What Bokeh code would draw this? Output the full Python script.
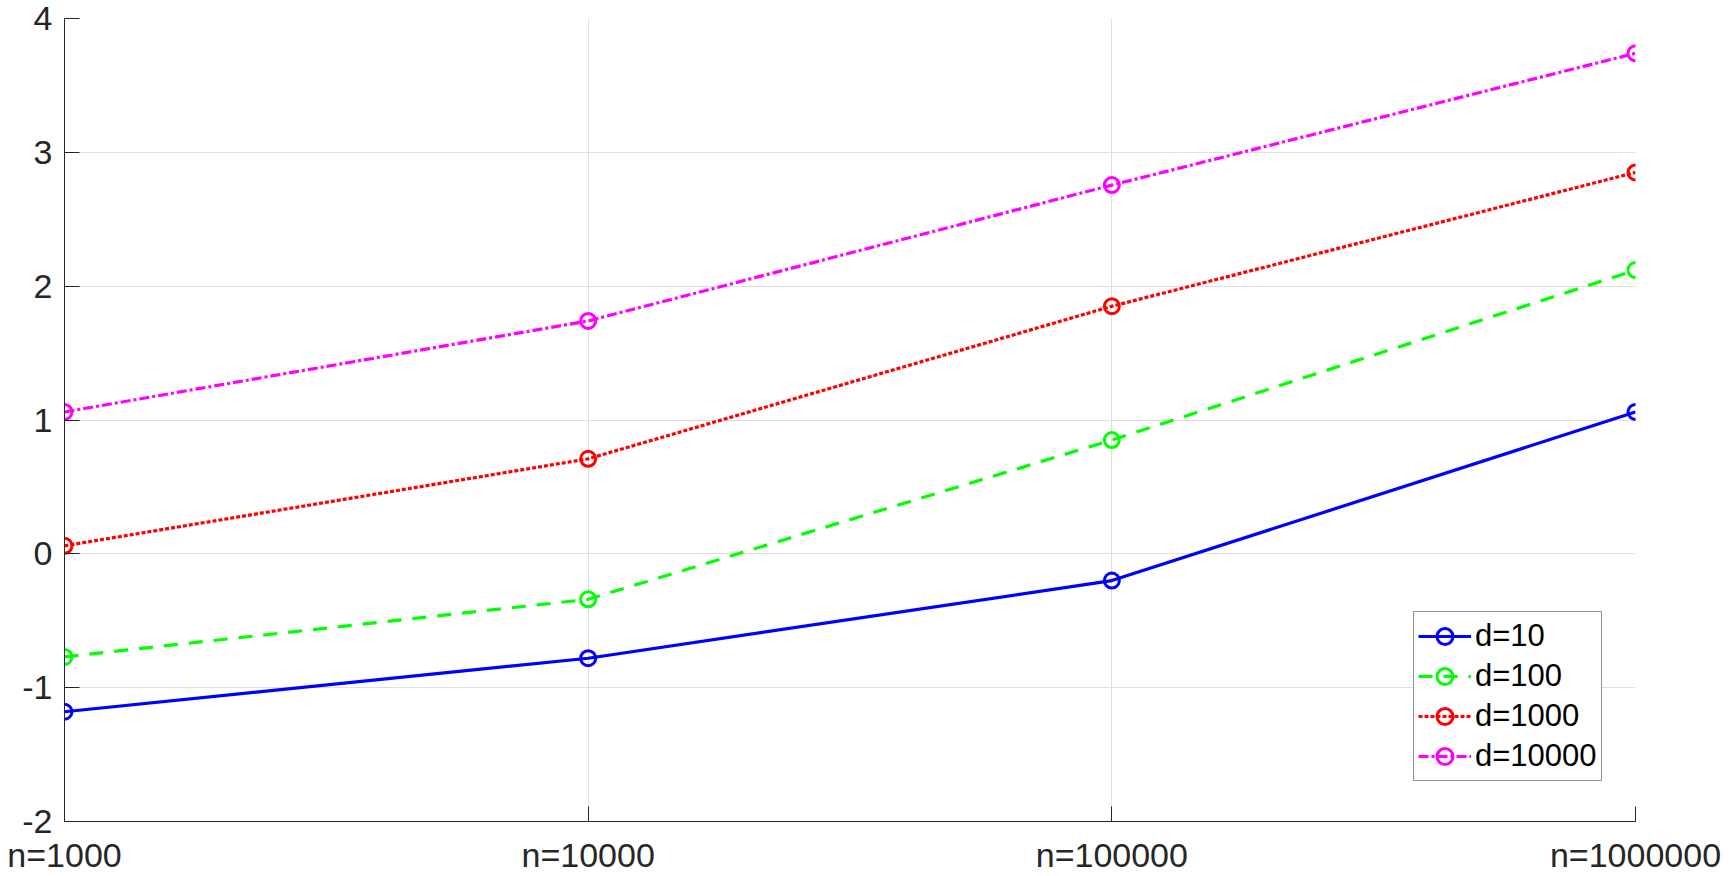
from bokeh.plotting import figure
from bokeh.models import Range1d, FixedTicker, Legend, LegendItem
from bokeh.embed import file_html
from bokeh.resources import INLINE

n_values = [1000, 10000, 100000, 1000000]
x_labels = ["n=1000", "n=10000", "n=100000", "n=1000000"]
y_ticks = [-2, -1, 0, 1, 2, 3, 4]
y_labels = ["-2", "-1", "0", "1", "2", "3", "4"]

d10 = [-1.18, -0.78, -0.20, 1.06]
d100 = [-0.77, -0.34, 0.85, 2.12]
d1000 = [0.06, 0.71, 1.85, 2.85]
d10000 = [1.06, 1.74, 2.755, 3.74]

series_names = ["d=10", "d=100", "d=1000", "d=10000"]
series_values = [d10, d100, d1000, d10000]
colors = ["#0000ff", "#00ff00", "#ff0000", "#ff00ff"]
dashes = ["solid", "14 11", "4 2", "10 3 3 3"]

FONT = "Liberation Sans"
AX = "#262626"

p = figure(width=1729, height=876, x_axis_type="log",
           x_range=Range1d(1000, 1000000), y_range=Range1d(-2, 4),
           output_backend="svg", toolbar_location=None,
           min_border_left=64, min_border_right=94, min_border_top=18,
           min_border_bottom=53)
p.outline_line_color = None
p.background_fill_color = "white"

p.xaxis.ticker = FixedTicker(ticks=n_values)
p.xaxis.major_label_overrides = {v: l for v, l in zip(n_values, x_labels)}
p.yaxis.ticker = FixedTicker(ticks=y_ticks)
p.yaxis.major_label_overrides = {v: l for v, l in zip(y_ticks, y_labels)}
p.xaxis.minor_tick_line_color = None
p.yaxis.minor_tick_line_color = None

for ax in (p.xaxis[0], p.yaxis[0]):
    ax.axis_line_color = AX
    ax.axis_line_width = 1
    ax.major_tick_line_color = AX
    ax.major_tick_in = 15
    ax.major_tick_out = 0
    ax.major_label_text_font = FONT
    ax.major_label_text_font_size = "34px"
    ax.major_label_text_color = AX
p.xaxis.major_label_standoff = 14
p.yaxis.major_label_standoff = 12

p.xgrid.ticker = FixedTicker(ticks=n_values)
p.ygrid.ticker = FixedTicker(ticks=y_ticks)
for g in (p.xgrid[0], p.ygrid[0]):
    g.grid_line_color = "#dfdfdf"
    g.grid_line_width = 1

items = []
for name, vals, c, dsh in zip(series_names, series_values, colors, dashes):
    r1 = p.line(n_values, vals, line_color=c, line_width=3.2, line_dash=dsh)
    r2 = p.scatter(n_values, vals, marker="circle", size=15, fill_color=None,
                   line_color=c, line_width=3)
    items.append(LegendItem(label=name, renderers=[r1, r2]))

legend = Legend(items=items, location=(1349, 40))
legend.label_text_font = FONT
legend.label_text_font_size = "31px"
legend.label_text_color = "black"
legend.label_height = 40
legend.glyph_height = 40
legend.glyph_width = 53
legend.label_standoff = 4
legend.spacing = 0
legend.padding = 4
legend.margin = 0
legend.border_line_color = AX
legend.border_line_width = 1
legend.background_fill_color = "white"
legend.background_fill_alpha = 1
p.add_layout(legend, "center")

open("out.html", "w").write(file_html(p, INLINE))
